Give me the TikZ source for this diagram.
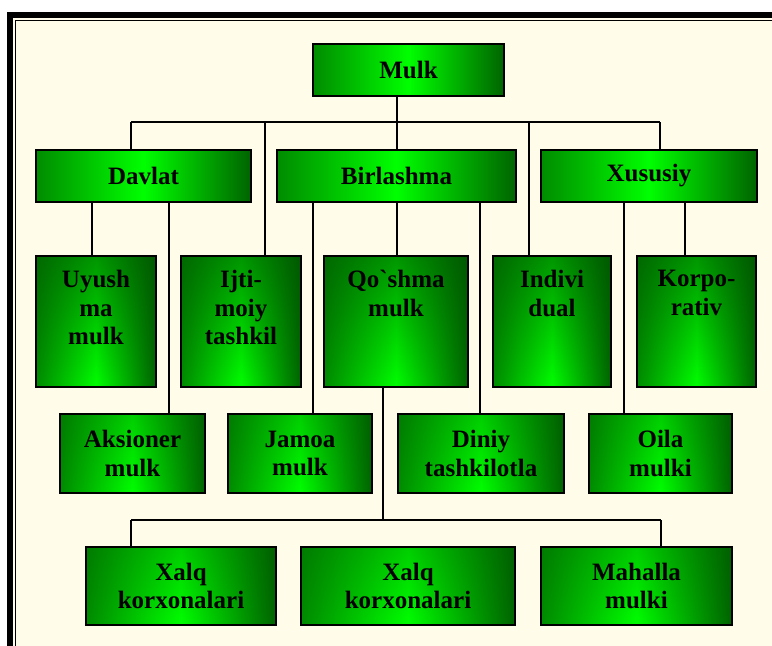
\documentclass[tikz,border=0pt]{standalone}
\usepackage{fontspec}
\setmainfont{Liberation Serif}[Ligatures=TeXOff]
\usetikzlibrary{fadings}
\definecolor{gL}{RGB}{0,140,0}
\definecolor{gM}{RGB}{0,255,0}
\definecolor{gR}{RGB}{0,100,0}
\definecolor{gD}{RGB}{0,80,0}
\definecolor{cream}{RGB}{255,253,234}
\tikzfading[name=tfade, top color=transparent!20, bottom color=transparent!100]
\tikzset{
  box/.style={draw=black, line width=2pt, rectangle, inner sep=0pt,
    left color=gL, right color=gR, middle color=gM,
    font=\bfseries\fontsize{25}{28.5}\selectfont, align=center},
  vshade/.style={path picture={\fill[gD, opacity=#1, path fading=tfade]
    (path picture bounding box.north west) rectangle (path picture bounding box.south east);}},
  wide/.style={box, minimum width=#1, minimum height=52pt},
  tall/.style={box, minimum width=#1, minimum height=131pt, vshade=0.75},
  mid/.style={box, minimum width=#1, minimum height=79pt, vshade=0.35},
  toptext/.style={label={[anchor=north, inner sep=0pt, yshift=-15pt, align=center,
    font=\bfseries\fontsize{25}{28.5}\selectfont]north:#1}},
  conn/.style={draw=black, line width=2pt}
}
\begin{document}
\begin{tikzpicture}[x=1pt, y=-1pt]
\useasboundingbox (0,0) rectangle (772,646);
\clip (0,0) rectangle (772,646);
% frame
\fill[white] (0,0) rectangle (772,646);
\fill[cream] (10,15) rectangle (800,680);
\draw[line width=6pt] (10,15) rectangle (800,680);
\draw[line width=1.3pt] (15.8,20.8) rectangle (800,680);
% level 1
\node[wide=191pt] (mulk) at (408.5,70) {Mulk};
% level 2
\node[wide=215pt] (davlat) at (143.5,175.5) {Davlat};
\node[wide=239pt] (birl) at (396.5,175.5) {Birlashma};
\node[wide=216pt] (xus) at (649,175.5) {Xususiy};
% level 3 tall
\node[tall=120pt, toptext={Uyush\\ma\\mulk}] (uyush) at (96,321.5) {};
\node[tall=120pt, toptext={Ijti-\\moiy\\tashkil}] (ijt) at (241,321.5) {};
\node[tall=144pt, toptext={Qo`shma\\mulk}] (qosh) at (396,321.5) {};
\node[tall=118pt, toptext={Indivi\\dual}] (indiv) at (552,321.5) {};
\node[tall=119pt, toptext={Korpo-\\rativ}] (korp) at (696.5,321.5) {};
% level 4
\node[mid=145pt] (aks) at (132.5,453.5) {Aksioner\\mulk};
\node[mid=144pt] (jamoa) at (300,453.5) {Jamoa\\mulk};
\node[mid=166pt] (diniy) at (481,453.5) {Diniy\\tashkilotla};
\node[mid=143pt] (oila) at (660.5,453.5) {Oila\\mulki};
% level 5
\node[mid=190pt, minimum height=78pt] (xalq1) at (181,586) {Xalq\\korxonalari};
\node[mid=214pt, minimum height=78pt] (xalq2) at (408,586) {Xalq\\korxonalari};
\node[mid=191pt, minimum height=78pt] (mah) at (636.5,586) {Mahalla\\mulki};
% connector x positions
\coordinate (bL) at (131,122);
\coordinate (bR) at (660,122);
\coordinate (cI) at (265,122);
\coordinate (cV) at (529,122);
\coordinate (k92) at (92,0);
\coordinate (k169) at (169,0);
\coordinate (k313) at (313,0);
\coordinate (k480) at (480,0);
\coordinate (k624) at (624,0);
\coordinate (k685) at (685,0);
\coordinate (dL) at (131,520);
\coordinate (dR) at (661,520);
\coordinate (dQ) at (383,520);
% top bus
\draw[conn] (bL) -- (bR);
\draw[conn] (mulk.south -| birl.north) -- (birl.north);
\draw[conn] (bL) -- (davlat.north -| bL);
\draw[conn] (bR) -- (xus.north -| bR);
\draw[conn] (cI) -- (ijt.north -| cI);
\draw[conn] (cV) -- (indiv.north -| cV);
% davlat children
\draw[conn] (davlat.south -| k92) -- (uyush.north -| k92);
\draw[conn] (davlat.south -| k169) -- (aks.north -| k169);
% birlashma children
\draw[conn] (birl.south -| k313) -- (jamoa.north -| k313);
\draw[conn] (birl.south) -- (qosh.north -| birl.south);
\draw[conn] (birl.south -| k480) -- (diniy.north -| k480);
% xususiy children
\draw[conn] (xus.south -| k624) -- (oila.north -| k624);
\draw[conn] (xus.south -| k685) -- (korp.north -| k685);
% bottom bus
\draw[conn] (qosh.south -| dQ) -- (dQ);
\draw[conn] (dL) -- (dR);
\draw[conn] (dL) -- (xalq1.north -| dL);
\draw[conn] (dR) -- (mah.north -| dR);
\end{tikzpicture}
\end{document}
